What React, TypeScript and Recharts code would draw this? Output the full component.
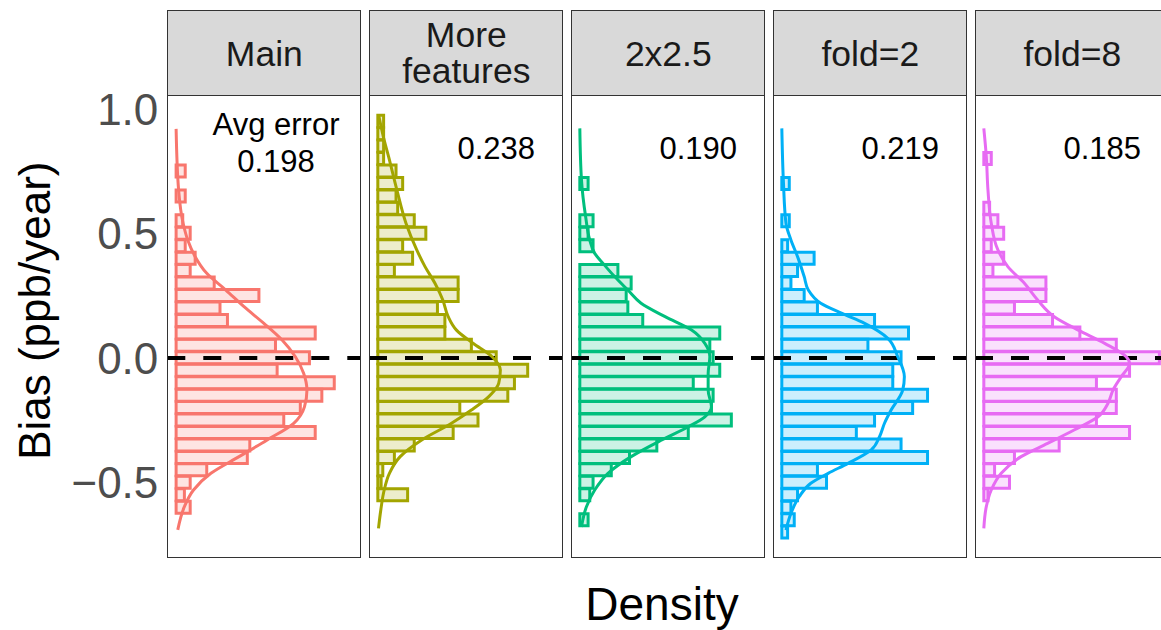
import React from "react";
import { ComposedChart, Bar, Line, XAxis, YAxis, ReferenceLine } from "recharts";

const panelNames = [["Main"], ["More", "features"], ["2x2.5"], ["fold=2"], ["fold=8"]];
const panelColors = ["#F8766D", "#A3A500", "#00BF7D", "#00B0F6", "#E76BF3"];
const avgErrors = ["0.198", "0.238", "0.190", "0.219", "0.185"];
const yTicks = [-0.5, 0, 0.5, 1.0];

// histogram bin centres (binwidth 0.05), top to bottom
const binCenters = [
  0.95, 0.9, 0.85, 0.8, 0.75, 0.7, 0.65, 0.6, 0.55, 0.5, 0.45, 0.4, 0.35, 0.3, 0.25, 0.2, 0.15,
  0.1, 0.05, 0, -0.05, -0.1, -0.15, -0.2, -0.25, -0.3, -0.35, -0.4, -0.45, -0.5, -0.55, -0.6,
  -0.65, -0.7,
];

// histogram densities per panel, aligned with binCenters
const histMain = [
  0, 0, 0, 0, 0.11, 0, 0.11, 0, 0.08, 0.17, 0.11, 0.23, 0.17, 0.46, 1.0, 0.53, 0.62,
  1.68, 1.2, 1.61, 1.22, 1.91, 1.76, 1.5, 1.3, 1.68, 0.89, 0.86, 0.37, 0.17, 0.1, 0.17,
  0, 0,
];
const histMore = [
  0.07, 0.07, 0.07, 0.07, 0.22, 0.3, 0.22, 0.24, 0.44, 0.58, 0.3, 0.42, 0.2, 0.97, 0.97, 0.72, 0.81,
  0.81, 1.13, 1.43, 1.81, 1.65, 1.57, 0.99, 1.21, 0.91, 0.44, 0.2, 0.06, 0.04, 0.36, 0,
  0, 0,
];
const hist2x = [
  0, 0, 0, 0, 0, 0.1, 0, 0, 0.16, 0.1, 0.16, 0, 0.46, 0.62, 0.56, 0.58, 0.76,
  1.69, 1.57, 1.61, 1.69, 1.37, 1.61, 1.59, 1.83, 1.31, 0.93, 0.6, 0.38, 0.16, 0.12, 0,
  0.1, 0,
];
const histFold2 = [
  0, 0, 0, 0, 0, 0.09, 0, 0, 0.09, 0, 0.07, 0.39, 0.19, 0.11, 0.27, 0.43, 1.12,
  1.53, 1.04, 1.44, 1.34, 1.34, 1.76, 1.58, 1.12, 0.9, 1.44, 1.76, 0.43, 0.54, 0.19, 0.11,
  0.15, 0.07,
];
const histFold8 = [
  0, 0, 0, 0.09, 0, 0, 0, 0.07, 0.17, 0.24, 0.09, 0.24, 0.11, 0.75, 0.75, 0.37, 0.83,
  1.16, 1.6, 2.12, 1.76, 1.36, 1.6, 1.6, 1.36, 1.76, 0.91, 0.37, 0.13, 0.31, 0.05, 0,
  0, 0,
];

// density curves: [bias, density]
const curveMain = [
  [0.92, 0], [0.675, 0.03], [0.54, 0.085], [0.474, 0.14], [0.407, 0.23], [0.34, 0.37],
  [0.273, 0.6], [0.206, 0.82], [0.139, 1.06], [0.072, 1.28], [0.005, 1.44], [-0.061, 1.54],
  [-0.129, 1.58], [-0.196, 1.55], [-0.262, 1.42], [-0.329, 1.1], [-0.396, 0.76], [-0.463, 0.42],
  [-0.53, 0.21], [-0.597, 0.1], [-0.69, 0.02],
];
const curveMore = [
  [0.976, 0.01], [0.876, 0.076], [0.809, 0.13], [0.675, 0.23], [0.541, 0.34], [0.434, 0.47],
  [0.367, 0.57], [0.3, 0.69], [0.233, 0.785], [0.166, 0.85], [0.112, 0.95], [0.059, 1.15],
  [0.005, 1.38], [-0.048, 1.48], [-0.102, 1.46], [-0.155, 1.34], [-0.209, 1.13], [-0.262, 0.89],
  [-0.329, 0.53], [-0.396, 0.27], [-0.463, 0.14], [-0.53, 0.077], [-0.61, 0.036], [-0.684, 0.008],
];
const curve2x = [
  [0.922, 0], [0.715, 0.02], [0.568, 0.07], [0.474, 0.12], [0.42, 0.18], [0.38, 0.28],
  [0.327, 0.42], [0.273, 0.58], [0.22, 0.74], [0.166, 1.03], [0.112, 1.35], [0.059, 1.51],
  [0.005, 1.57], [-0.062, 1.55], [-0.129, 1.55], [-0.196, 1.59], [-0.236, 1.51], [-0.276, 1.31],
  [-0.329, 0.99], [-0.396, 0.62], [-0.463, 0.34], [-0.53, 0.18], [-0.597, 0.08], [-0.678, 0.02],
];
const curveFold2 = [
  [0.922, 0], [0.702, 0.02], [0.541, 0.05], [0.474, 0.11], [0.407, 0.19], [0.327, 0.27],
  [0.273, 0.32], [0.22, 0.47], [0.18, 0.72], [0.139, 1.0], [0.079, 1.28], [0.005, 1.4],
  [-0.075, 1.48], [-0.129, 1.46], [-0.209, 1.32], [-0.262, 1.24], [-0.316, 1.18], [-0.369, 1.08],
  [-0.423, 0.8], [-0.463, 0.56], [-0.503, 0.35], [-0.557, 0.21], [-0.624, 0.11], [-0.691, 0.05],
];
const curveFold8 = [
  [0.922, 0], [0.809, 0.03], [0.675, 0.05], [0.541, 0.09], [0.434, 0.17], [0.367, 0.29],
  [0.3, 0.49], [0.233, 0.65], [0.166, 0.85], [0.112, 1.14], [0.059, 1.46], [0.005, 1.72],
  [-0.022, 1.76], [-0.075, 1.66], [-0.129, 1.56], [-0.182, 1.5], [-0.236, 1.38], [-0.289, 1.09],
  [-0.343, 0.77], [-0.396, 0.45], [-0.463, 0.21], [-0.53, 0.09], [-0.597, 0.03], [-0.684, 0],
];

const histograms = [histMain, histMore, hist2x, histFold2, histFold8];
const curves = [curveMain, curveMore, curve2x, curveFold2, curveFold8];

const FONT = "'Liberation Sans', Arial, Helvetica, sans-serif";
const PANEL_LEFT = 167.3;
const PANEL_STEP = 202;
const PANEL_W = 194;
const STRIP_TOP = 9.5;
const PLOT_TOP = 96;
const PLOT_H = 462;
const PAD = 30; // room above/below the plot so tick labels are not clipped
const Y_DOMAIN: [number, number] = [-0.803, 1.052];
const X_MAX = 2.13;
const X_DOMAIN: [number, number] = [-0.05 * X_MAX, 1.05 * X_MAX];

const fmtTick = (v: number) => (v < 0 ? "\u2212" + Math.abs(v).toFixed(1) : v.toFixed(1));

function Panel({ idx }: { idx: number }) {
  const color = panelColors[idx];
  const bins = binCenters.map((y, j) => ({ y, h: histograms[idx][j] }));
  const curve = curves[idx].map(([y, d]) => ({ y, d }));
  const showAxis = idx === 0;
  const axisW = showAxis ? PANEL_LEFT : 0;
  const left = PANEL_LEFT + PANEL_STEP * idx;
  return (
    <>
      <div
        style={{
          position: "absolute",
          left,
          top: STRIP_TOP,
          width: PANEL_W,
          height: PLOT_TOP - STRIP_TOP,
          background: "#D9D9D9",
          border: "1px solid #333",
          boxSizing: "border-box",
        }}
      />
      <div style={{ position: "absolute", left: left - axisW, top: PLOT_TOP - PAD }}>
        <ComposedChart
          layout="vertical"
          width={PANEL_W + axisW}
          height={PLOT_H + 2 * PAD}
          data={bins}
          margin={{ top: PAD, right: 0, bottom: PAD, left: 0 }}
          barCategoryGap={0}
          barGap={0}
        >
          <XAxis type="number" domain={X_DOMAIN} allowDataOverflow hide />
          <YAxis
            yAxisId="bins"
            type="number"
            dataKey="y"
            domain={Y_DOMAIN}
            reversed
            allowDataOverflow
            ticks={yTicks}
            interval={0}
            tickFormatter={fmtTick}
            hide={!showAxis}
            width={axisW}
            axisLine={false}
            tickLine={false}
            tickSize={0}
            tickMargin={9}
            tick={{ fontSize: 44, fill: "#4D4D4D", fontFamily: FONT }}
          />
          <YAxis
            yAxisId="curve"
            type="number"
            dataKey="y"
            domain={Y_DOMAIN}
            reversed
            allowDataOverflow
            hide
          />
          <ReferenceLine yAxisId="bins" y={0} stroke="#000" strokeWidth={4} strokeDasharray="18 18" />
          <Bar
            yAxisId="bins"
            dataKey="h"
            fill={color}
            fillOpacity={0.2}
            stroke={color}
            strokeWidth={3}
            isAnimationActive={false}
          />
          <Line
            yAxisId="curve"
            data={curve}
            dataKey="d"
            type="monotone"
            stroke={color}
            strokeWidth={3}
            dot={false}
            activeDot={false}
            isAnimationActive={false}
          />
        </ComposedChart>
      </div>
      <div
        style={{
          position: "absolute",
          left,
          top: PLOT_TOP - 1,
          width: PANEL_W,
          height: PLOT_H + 1,
          border: "1px solid #333",
          boxSizing: "border-box",
          pointerEvents: "none",
        }}
      />
    </>
  );
}

export default function App() {
  return (
    <div
      style={{
        position: "absolute",
        left: 0,
        top: 0,
        width: 1161,
        height: 630,
        overflow: "hidden",
        background: "#fff",
        fontFamily: FONT,
      }}
    >
      {panelColors.map((_, i) => (
        <Panel key={i} idx={i} />
      ))}
      <svg
        width={1161}
        height={630}
        style={{ position: "absolute", left: 0, top: 0, pointerEvents: "none" }}
        fontFamily={FONT}
      >
        {panelNames.map((lines, i) => {
          const cx = PANEL_LEFT + PANEL_STEP * i + PANEL_W / 2;
          const base = lines.length === 1 ? [65.5] : [46.7, 83.3];
          return lines.map((t, j) => (
            <text key={`${i}-${j}`} x={cx} y={base[j]} textAnchor="middle" fontSize={35.5} fill="#1A1A1A">
              {t}
            </text>
          ));
        })}
        <text x={PANEL_LEFT + 108.7} y={135} textAnchor="middle" fontSize={31} fill="#000">
          Avg error
        </text>
        {avgErrors.map((v, i) => (
          <text
            key={v}
            x={PANEL_LEFT + PANEL_STEP * i + (i === 0 ? 108.7 : 127)}
            y={i === 0 ? 171.7 : 158.6}
            textAnchor="middle"
            fontSize={31}
            fill="#000"
          >
            {v}
          </text>
        ))}
        <text x={50} y={310.7} transform="rotate(-90 50 310.7)" textAnchor="middle" fontSize={44} fill="#000">
          Bias (ppb/year)
        </text>
        <text x={662} y={620} textAnchor="middle" fontSize={46} fill="#000">
          Density
        </text>
      </svg>
    </div>
  );
}
